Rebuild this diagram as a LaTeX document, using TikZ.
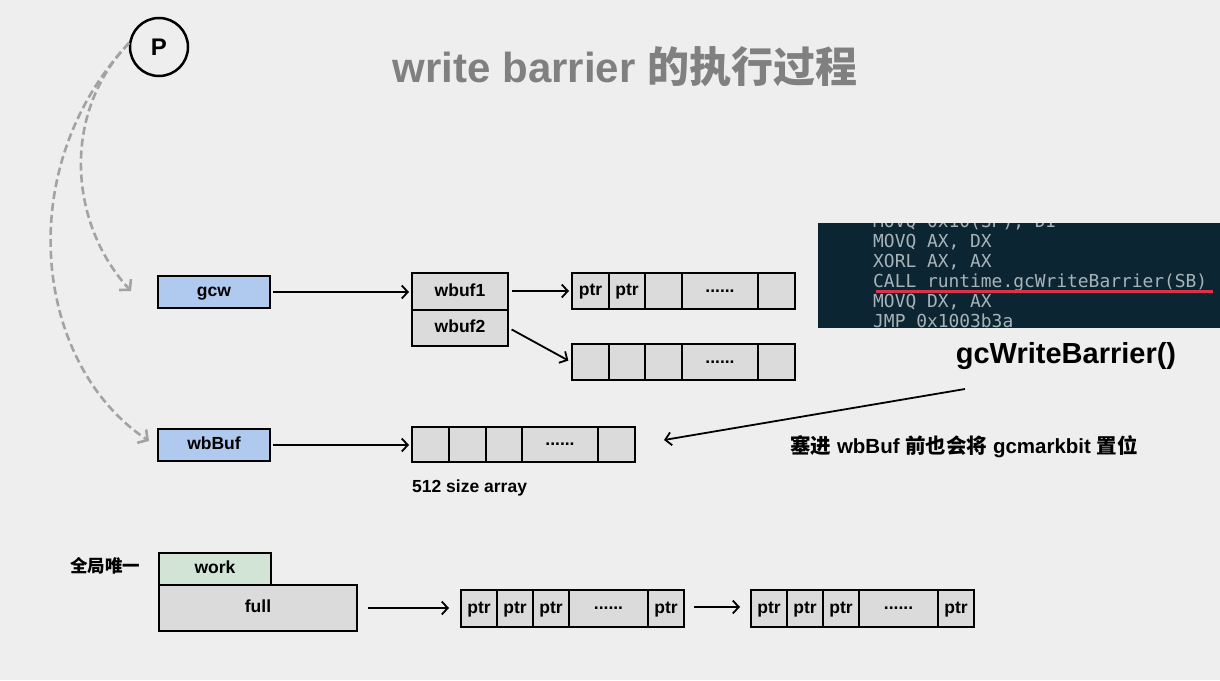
\documentclass[tikz,border=0pt]{standalone}
\usepackage{fontspec}
\setmainfont{Liberation Sans}
\setmonofont{DejaVu Sans Mono}
\newfontfamily\cjk{Noto Sans CJK SC}
\newcommand\zh[1]{{\cjk #1}}
\newcommand\celldots{\raisebox{3.5pt}{......}}
\usetikzlibrary{arrows.meta}
\definecolor{bg}{HTML}{EEEEEE}
\definecolor{cellgray}{HTML}{DBDBDB}
\definecolor{boxblue}{HTML}{AFCAEE}
\definecolor{boxgreen}{HTML}{D1E4D6}
\definecolor{codebg}{HTML}{0C2532}
\definecolor{codetext}{HTML}{A8B3B8}
\definecolor{redline}{HTML}{D9334A}
\definecolor{titlegray}{HTML}{808080}
\definecolor{dashgray}{HTML}{A3A3A3}
\begin{document}
\begin{tikzpicture}[x=1pt,y=-1pt,
  lbl/.style={font=\bfseries\fontsize{17.5}{20}\selectfont, text=black, inner sep=0pt},
  box/.style={lbl, draw=black, line width=2pt, text height=12.5pt, text depth=3.5pt},
  cell/.style={box, fill=cellgray, minimum height=36pt},
  bluebox/.style={box, fill=boxblue, minimum width=112pt, minimum height=32pt},
  arr/.style={-{Straight Barb[length=6pt,width=13pt,line width=1.8pt]}, line width=1.8pt},
  darr/.style={draw=dashgray, line width=2.6pt, dash pattern=on 8pt off 4pt, -{Straight Barb[length=7pt,width=16pt,line width=2.6pt]}},
  codeline/.style={anchor=base west, inner sep=0pt, text=codetext, font=\ttfamily\fontsize{17.9}{20}\selectfont}
]
\fill[bg] (0,0) rectangle (1220,680);
\useasboundingbox (0,0) rectangle (1220,680);

% title and P
\node[font=\bfseries\fontsize{42}{48}\selectfont, text=titlegray, inner sep=0pt] (title) at (625,67) {write barrier \zh{的执行过程}};
\node[circle, draw=black, line width=2.5pt, minimum size=58pt, inner sep=0pt, font=\bfseries\fontsize{24}{26}\selectfont] (P) at (159,47) {P};

% gcw and wbuf
\node[bluebox] (gcw) at (214,292) {gcw};
\node[cell, minimum width=96pt, minimum height=37pt] (wbuf1) at (460,291.5) {wbuf1};
\node[cell, minimum width=96pt, minimum height=36pt] (wbuf2) at (460,328) {wbuf2};

% array 1
\node[cell, minimum width=37pt] (a1c1) at (590.5,291) {ptr};
\node[cell, minimum width=36pt] (a1c2) at (627,291) {ptr};
\node[cell, minimum width=37pt] (a1c3) at (663.5,291) {};
\node[cell, minimum width=76pt] (a1c4) at (720,291) {\celldots};
\node[cell, minimum width=37pt] (a1c5) at (776.5,291) {};
% array 2
\node[cell, minimum width=37pt] (a2c1) at (590.5,362) {};
\node[cell, minimum width=36pt] (a2c2) at (627,362) {};
\node[cell, minimum width=37pt] (a2c3) at (663.5,362) {};
\node[cell, minimum width=76pt] (a2c4) at (720,362) {\celldots};
\node[cell, minimum width=37pt] (a2c5) at (776.5,362) {};

\draw[arr, shorten <=2pt, shorten >=2pt] (gcw.east) -- (gcw.east -| wbuf1.west);
\draw[arr, shorten <=3pt, shorten >=2pt] (wbuf1.east |- a1c1.west) -- (a1c1.west);
\draw[arr, shorten <=3pt, shorten >=3pt] (wbuf2.east) -- (a2c1.west);

% wbBuf
\node[bluebox] (wbBuf) at (214,445) {wbBuf};
\node[cell, minimum width=37pt, minimum height=35pt] (a3c1) at (430.5,444.5) {};
\node[cell, minimum width=37pt, minimum height=35pt] (a3c2) at (467.5,444.5) {};
\node[cell, minimum width=36pt, minimum height=35pt] (a3c3) at (504,444.5) {};
\node[cell, minimum width=76pt, minimum height=35pt] (a3c4) at (560,444.5) {\celldots};
\node[cell, minimum width=37pt, minimum height=35pt] (a3c5) at (616.5,444.5) {};
\node[lbl, anchor=west] (size) at (412,488) {512 size array};
\draw[arr, shorten <=2pt, shorten >=2pt] (wbBuf.east) -- (wbBuf.east -| a3c1.west);

% code block
\node[fill=codebg, minimum width=402pt, minimum height=105pt, anchor=north west, inner sep=0pt] (code) at (818,223) {};
\begin{scope}
\clip (code.north west) rectangle (code.south east);
\node[codeline] (l0) at (873,227) {MOVQ 0x10(SP), DI};
\node[codeline] (l1) at (873,247) {MOVQ AX, DX};
\node[codeline] (l2) at (873,267) {XORL AX, AX};
\node[codeline] (l3) at (873,287) {CALL runtime.gcWriteBarrier(SB)};
\node[codeline] (l4) at (873,307) {MOVQ DX, AX};
\node[codeline] (l5) at (873,327) {JMP 0x1003b3a};
\end{scope}
\coordinate (ul1) at (876,291);
\coordinate (ul2) at (1213,291);
\draw[redline, line width=3pt] (ul1) -- (ul2);

\node[lbl, font=\bfseries\fontsize{29}{32}\selectfont] (gwb) at (1066,356) {gcWriteBarrier()};
\coordinate (gwbstart) at (965,389);
\coordinate (gwbend) at (664,440);
\draw[arr] (gwbstart) -- (gwbend);
\node[lbl, font=\bfseries\fontsize{20.5}{23}\selectfont] (caption) at (964,447) {\zh{塞进} wbBuf \zh{前也会将} gcmarkbit \zh{置位}};

% P dashed arrows
\coordinate (pin) at (129,43);
\coordinate (gcwtip) at (131,291);
\coordinate (wbtip) at (149,441);
\draw[darr] (pin) .. controls (60,115) and (70,225) .. (gcwtip);
\draw[darr] (pin) .. controls (10,170) and (35,365) .. (wbtip);

% global
\node[lbl] (global) at (105,566) {\zh{全局唯一}};
\node[box, fill=boxgreen, minimum width=112pt, minimum height=32pt] (work) at (215,569) {work};
\node[box, fill=cellgray, minimum width=198pt, minimum height=46pt] (full) at (258,608) {full};

\node[cell, minimum width=36pt, minimum height=37pt] (a4c1) at (479,608.5) {ptr};
\node[cell, minimum width=36pt, minimum height=37pt] (a4c2) at (515,608.5) {ptr};
\node[cell, minimum width=36pt, minimum height=37pt] (a4c3) at (551,608.5) {ptr};
\node[cell, minimum width=79pt, minimum height=37pt] (a4c4) at (608.5,608.5) {\celldots};
\node[cell, minimum width=36pt, minimum height=37pt] (a4c5) at (666,608.5) {ptr};

\node[cell, minimum width=36pt, minimum height=37pt] (a5c1) at (769,608.5) {ptr};
\node[cell, minimum width=36pt, minimum height=37pt] (a5c2) at (805,608.5) {ptr};
\node[cell, minimum width=36pt, minimum height=37pt] (a5c3) at (841,608.5) {ptr};
\node[cell, minimum width=79pt, minimum height=37pt] (a5c4) at (898.5,608.5) {\celldots};
\node[cell, minimum width=36pt, minimum height=37pt] (a5c5) at (956,608.5) {ptr};

\draw[arr, shorten <=10pt, shorten >=11pt] (full.east) -- (full.east -| a4c1.west);
\draw[arr, shorten <=9pt, shorten >=10pt] (a4c5.east |- 0,607) -- (a5c1.west |- 0,607);
\end{tikzpicture}
\end{document}
